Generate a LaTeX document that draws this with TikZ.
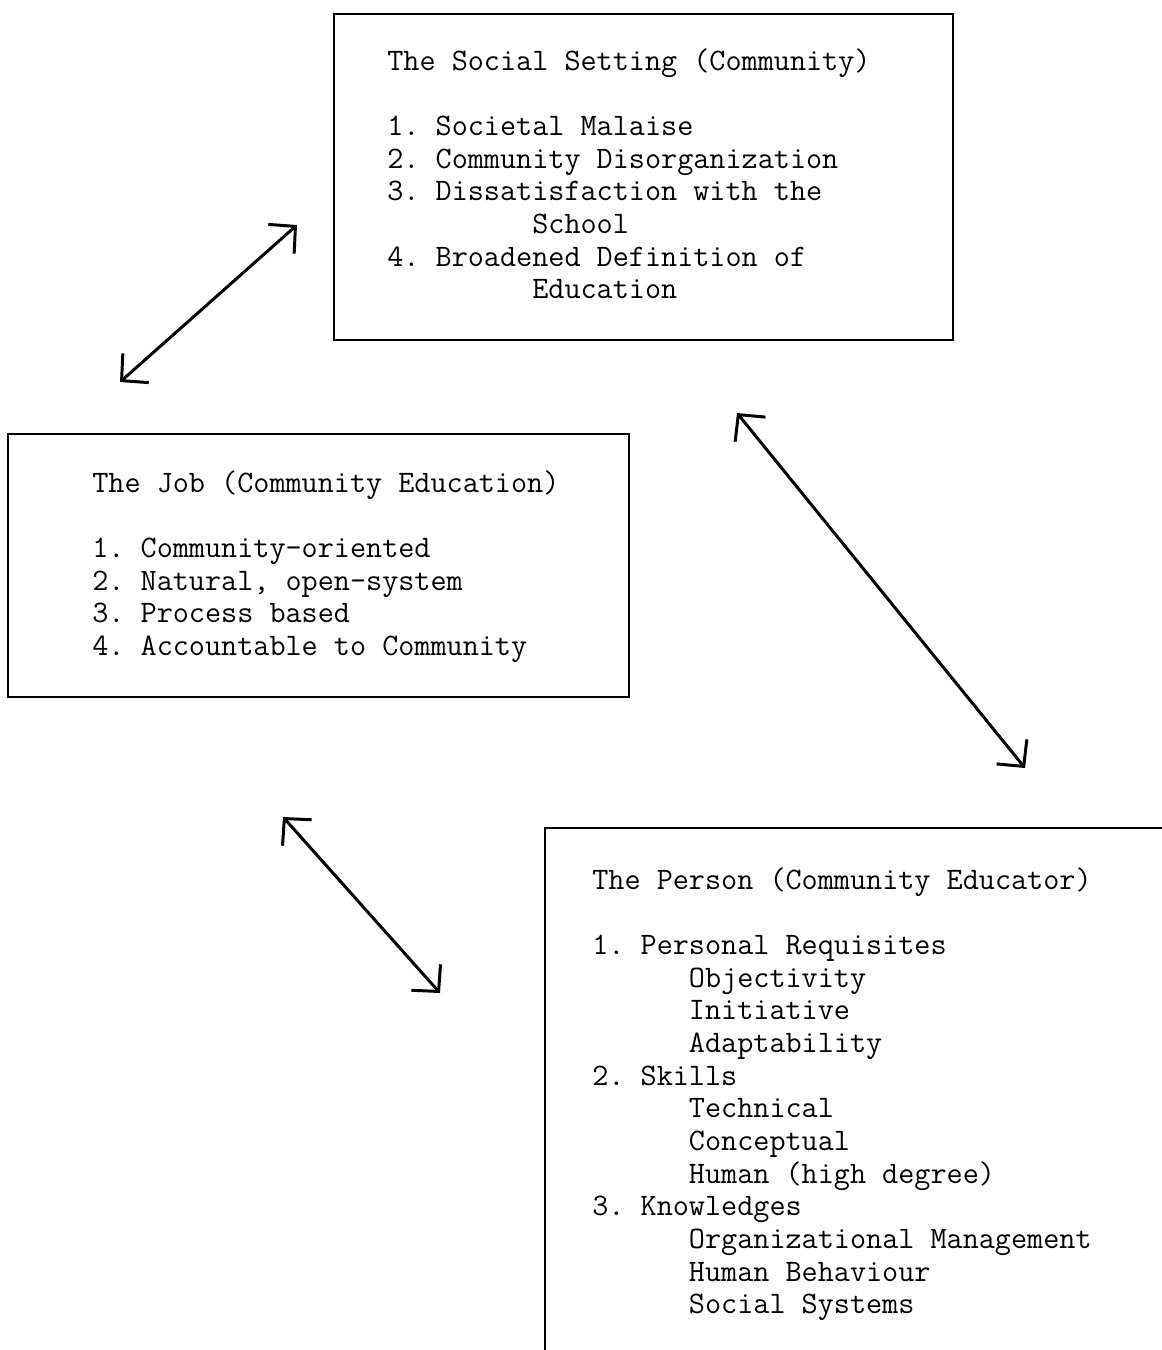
\documentclass[tikz,border=0pt]{standalone}
\usepackage{fontspec}
\usepackage{tikz}
\usetikzlibrary{arrows.meta}

% indent by a number of typewriter characters
\newcommand{\indentby}[1]{\hspace*{#1\fontcharwd\font`\x}}

\tikzset{
  frame/.style={line width=1.1pt},
  typed/.style={anchor=north west, inner sep=0pt, align=left,
    font=\fontsize{17.8pt}{18.6pt}\selectfont\ttfamily\addfontfeature{FakeBold=0.8}\frenchspacing},
  link/.style={line width=1.7pt, {Straight Barb[length=0.38cm,width=0.78cm]}-{Straight Barb[length=0.38cm,width=0.78cm]}}
}

\begin{document}
\begin{tikzpicture}[x=0.02cm, y=-0.02cm]

 \useasboundingbox (0,0) rectangle (1162,1350);

% The social setting (top)
 \coordinate (setting-nw) at (334,14);
 \coordinate (setting-se) at (953,340);
 \draw[frame] (setting-nw) rectangle (setting-se);
 \node[typed] (setting) at (387,48) {The Social Setting (Community)\\[18.6pt]
  1. Societal Malaise\\
  2. Community Disorganization\\
  3. Dissatisfaction with the\\
  \indentby{9}School\\
  4. Broadened Definition of\\
  \indentby{9}Education};

% The job (left)
 \coordinate (job-nw) at (8,434);
 \coordinate (job-se) at (629,697);
 \draw[frame] (job-nw) rectangle (job-se);
 \node[typed] (job) at (92,470) {The Job (Community Education)\\[18.6pt]
  1. Community-oriented\\
  2. Natural, open-system\\
  3. Process based\\
  4. Accountable to Community};

% The person (bottom right), box runs off the page
 \coordinate (person-ne) at (1162,828);
 \coordinate (person-nw) at (545,828);
 \coordinate (person-sw) at (545,1350);
 \draw[frame] (person-ne) -- (person-nw) -- (person-sw);
 \node[typed] (person) at (592,867) {The Person (Community Educator)\\[18.6pt]
  1. Personal Requisites\\
  \indentby{6}Objectivity\\
  \indentby{6}Initiative\\
  \indentby{6}Adaptability\\
  2. Skills\\
  \indentby{6}Technical\\
  \indentby{6}Conceptual\\
  \indentby{6}Human (high degree)\\
  3. Knowledges\\
  \indentby{6}Organizational Management\\
  \indentby{6}Human Behaviour\\
  \indentby{6}Social Systems};

% Two-way arrows between the boxes
 \coordinate (job-up) at (120,382);
 \coordinate (setting-left) at (297,225);
 \coordinate (setting-down) at (737,413);
 \coordinate (person-up) at (1025,768);
 \coordinate (job-down) at (283,817);
 \coordinate (person-left) at (440,993);

 \draw[link] (job-up) -- (setting-left);
 \draw[link] (setting-down) -- (person-up);
 \draw[link] (job-down) -- (person-left);

\end{tikzpicture}
\end{document}
